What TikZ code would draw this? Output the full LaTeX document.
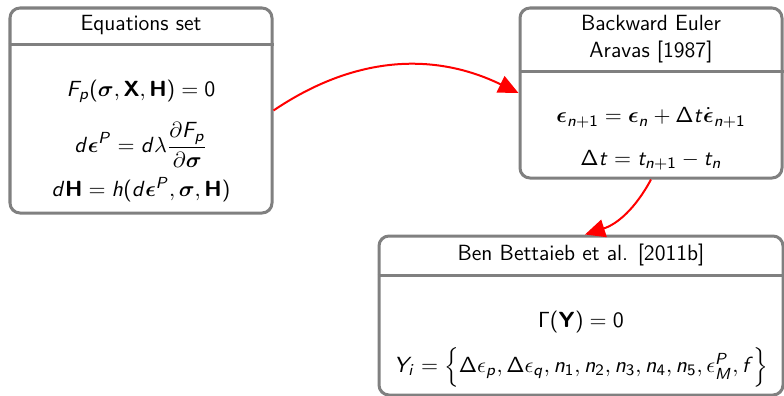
\documentclass[tikz,border=0pt]{standalone}
\usepackage{amsmath,amssymb}
\usetikzlibrary{arrows.meta,positioning}

\DeclareSymbolFont{sfletters}{OT1}{cmss}{m}{sl}
\SetSymbolFont{sfletters}{bold}{OT1}{cmss}{bx}{n}
\SetSymbolFont{operators}{normal}{OT1}{cmss}{m}{n}
\SetSymbolFont{operators}{bold}{OT1}{cmss}{bx}{n}
\SetMathAlphabet{\mathbf}{normal}{OT1}{cmss}{bx}{n}
\def\sfletter#1{\ifx#1\relax\else\DeclareMathSymbol{#1}{\mathalpha}{sfletters}{`#1}\expandafter\sfletter\fi}
\sfletter abcdefghijklmnopqrstuvwxyzABCDEFGHIJKLMNOPQRSTUVWXYZ\relax

\begin{document}
\begin{tikzpicture}[
x=0.5pt, y=-0.5pt,
font=\fontsize{11}{13.4}\selectfont\sffamily,
frame/.style={draw=gray, line width=1.5pt, rounded corners=5pt, fill=white},
boxtitle/.style={align=center, inner sep=2pt, anchor=north},
body/.style={align=center, inner sep=0pt},
sep/.style={draw=gray, line width=1.5pt},
link/.style={-{Triangle[length=10pt,width=9pt]}, draw=red, line width=1pt}
]
\useasboundingbox (0,0) rectangle (784,396);

\node[frame, minimum width=131pt, minimum height=102.5pt] (eqs) at (141,110.5) {};
\node[boxtitle, minimum height=18.5pt] (eqstitle) at (eqs.north) {Equations set};
\draw[sep] (eqstitle.south -| eqs.west) -- (eqstitle.south -| eqs.east);
\node[body] (eqsbody) at (141,141) {$F_p(\boldsymbol{\sigma},\mathbf{X},\mathbf{H})=0$\\[9pt]
$\displaystyle d\boldsymbol{\epsilon}^P=d\lambda\frac{\partial F_p}{\partial\boldsymbol{\sigma}}$\\[4pt]
$d\mathbf{H}=h(d\boldsymbol{\epsilon}^P,\boldsymbol{\sigma},\mathbf{H})$};

\node[frame, minimum width=131pt, minimum height=85pt] (euler) at (651,93) {};
\node[boxtitle, minimum height=32pt] (eulertitle) at (euler.north) {Backward Euler\\Aravas [1987]};
\draw[sep] (eulertitle.south -| euler.west) -- (eulertitle.south -| euler.east);
\node[body] (eulerbody) at (651,139) {$\boldsymbol{\epsilon}_{n+1}=\boldsymbol{\epsilon}_n+\Delta t\dot{\boldsymbol{\epsilon}}_{n+1}$\\[8pt]
$\Delta t=t_{n+1}-t_n$};

\node[frame, minimum width=202pt, minimum height=79.5pt] (bettaieb) at (581,315.5) {};
\node[boxtitle, minimum height=20pt] (bettaiebtitle) at (bettaieb.north) {Ben Bettaieb et al. [2011b]};
\draw[sep] (bettaiebtitle.south -| bettaieb.west) -- (bettaiebtitle.south -| bettaieb.east);
\node[body] (bettaiebbody) at (581,349) {$\Gamma(\mathbf{Y})=0$\\[6pt]
$Y_i=\Big\{\Delta\epsilon_p,\Delta\epsilon_q,n_1,n_2,n_3,n_4,n_5,\epsilon^P_M,f\Big\}$};

\draw[link] (eqs.east) to[bend left=30] (euler.west);
\draw[link] (euler.south) to[bend left=22] ([xshift=2pt]bettaieb.north);
\end{tikzpicture}
\end{document}
